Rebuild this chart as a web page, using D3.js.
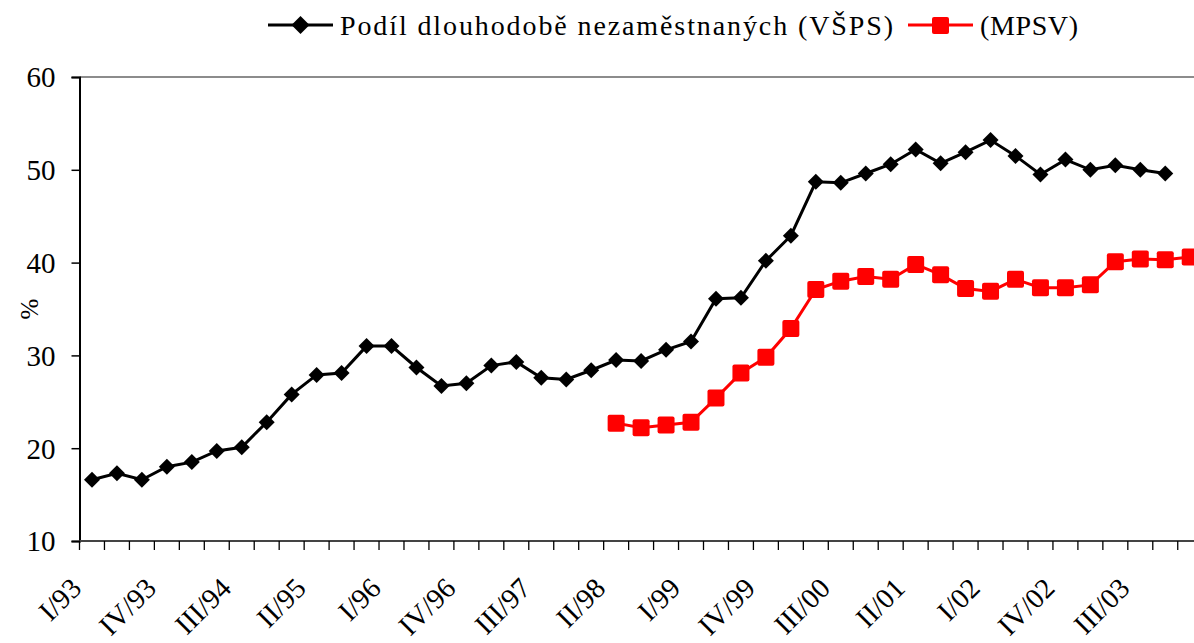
<!DOCTYPE html>
<html><head><meta charset="utf-8">
<script src="https://cdn.jsdelivr.net/npm/d3@7"></script>
<style>body{margin:0;background:#fff}svg{display:block}text{font-family:"Liberation Serif","Times New Roman",serif;fill:#000}</style>
</head><body><svg id="c" width="1194" height="643"></svg>
<script>
const categories = ["I/93","II/93","III/93","IV/93","I/94","II/94","III/94","IV/94","I/95","II/95","III/95","IV/95",
"I/96","II/96","III/96","IV/96","I/97","II/97","III/97","IV/97","I/98","II/98","III/98","IV/98",
"I/99","II/99","III/99","IV/99","I/00","II/00","III/00","IV/00","I/01","II/01","III/01","IV/01",
"I/02","II/02","III/02","IV/02","I/03","II/03","III/03","IV/03","I/04"];
const tickLabels = ["I/93","IV/93","III/94","II/95","I/96","IV/96","III/97","II/98","I/99","IV/99","III/00","II/01","I/02","IV/02","III/03"];
const yTicks = [10,20,30,40,50,60];
const vsps = [16.6,17.3,16.6,18.0,18.5,19.7,20.1,22.8,25.8,27.9,28.1,31.0,
31.0,28.7,26.7,27.0,28.9,29.3,27.6,27.4,28.4,29.5,29.4,30.6,
31.5,36.1,36.2,40.2,42.9,48.7,48.6,49.6,50.6,52.2,50.7,51.9,
53.2,51.5,49.5,51.1,50.0,50.5,50.0,49.6,null];
const mpsv = [null,null,null,null,null,null,null,null,null,null,null,null,
null,null,null,null,null,null,null,null,null,22.7,22.2,22.5,
22.8,25.4,28.1,29.8,32.9,37.1,38.0,38.5,38.2,39.8,38.7,37.2,
36.9,38.2,37.3,37.3,37.6,40.1,40.4,40.3,40.6];
const seriesNames = ["Podíl dlouhodobě nezaměstnaných (VŠPS)","(MPSV)"];

const svg = d3.select("#c");
const pLeft = 79.5, bw = 24.96, pTop = 77, pBottom = 541;
const x = d3.scaleBand().domain(categories).range([pLeft, pLeft + bw*categories.length]);
const y = d3.scaleLinear().domain([10,60]).range([pBottom, pTop]);
const cx = c => x(c) + x.bandwidth()/2;

// top plot border
svg.append("line").attr("x1",pLeft).attr("x2",1194).attr("y1",y(60)).attr("y2",y(60))
  .attr("stroke","#8c8c8c").attr("stroke-width",2.2);

// y axis
const ya = svg.append("g").attr("transform",`translate(${pLeft},0)`)
  .call(d3.axisLeft(y).tickValues(yTicks).tickSize(8).tickPadding(16).tickFormat(d3.format("d")));
ya.select(".domain").attr("stroke","#000").attr("stroke-width",2);
ya.selectAll(".tick line").attr("stroke","#000").attr("stroke-width",1.5);
ya.selectAll(".tick text").attr("font-size",29).attr("font-family","Liberation Serif").attr("dy","0.34em");

// x axis
const xa = svg.append("g");
xa.append("line").attr("x1",pLeft).attr("x2",1194).attr("y1",pBottom).attr("y2",pBottom)
  .attr("stroke","#444").attr("stroke-width",2.2);
xa.selectAll(".xt").data(categories).join("line").attr("class","xt")
  .attr("x1",d=>x(d)).attr("x2",d=>x(d)).attr("y1",pBottom).attr("y2",pBottom+9)
  .attr("stroke","#000").attr("stroke-width",1.3);
xa.selectAll(".xl").data(tickLabels).join("text").attr("class","xl")
  .attr("transform",d=>`translate(${cx(d)-9},${pBottom+49}) rotate(-45)`)
  .attr("text-anchor","end").attr("font-size",28.5).text(d=>d);

// y title
svg.append("text").attr("transform","translate(38,309) rotate(-90)").attr("text-anchor","middle")
  .attr("font-size",25).text("%");

const line = d3.line().defined(d=>d.v!=null).x(d=>cx(d.c)).y(d=>y(d.v));
const d1 = categories.map((c,i)=>({c,v:vsps[i]}));
const d2 = categories.map((c,i)=>({c,v:mpsv[i]}));

svg.append("path").datum(d1).attr("d",line).attr("fill","none").attr("stroke","#000").attr("stroke-width",3);
svg.selectAll(".dm").data(d1.filter(d=>d.v!=null)).join("path").attr("class","dm")
  .attr("d","M0,-8L8,0L0,8L-8,0Z").attr("fill","#000")
  .attr("transform",d=>`translate(${cx(d.c)},${y(d.v)})`);

svg.append("path").datum(d2).attr("d",line).attr("fill","none").attr("stroke","#ff0000").attr("stroke-width",3);
svg.selectAll(".sq").data(d2.filter(d=>d.v!=null)).join("rect").attr("class","sq")
  .attr("x",d=>cx(d.c)-8.5).attr("y",d=>y(d.v)-8.5).attr("width",17).attr("height",17).attr("rx",2)
  .attr("fill","#ff0000");

// legend
const lg = svg.append("g");
lg.append("line").attr("x1",268).attr("x2",333).attr("y1",25).attr("y2",25).attr("stroke","#000").attr("stroke-width",3);
lg.append("path").attr("d","M0,-9L9,0L0,9L-9,0Z").attr("transform","translate(300.5,25)").attr("fill","#000");
lg.append("text").attr("x",340).attr("y",35).attr("font-size",28).attr("textLength",553).attr("lengthAdjust","spacing").text(seriesNames[0]);
lg.append("line").attr("x1",908).attr("x2",973).attr("y1",25).attr("y2",25).attr("stroke","#ff0000").attr("stroke-width",3);
lg.append("rect").attr("x",932).attr("y",17).attr("width",17).attr("height",17).attr("rx",2).attr("fill","#ff0000");
lg.append("text").attr("x",980).attr("y",35).attr("font-size",28).attr("textLength",98).attr("lengthAdjust","spacing").text(seriesNames[1]);
</script></body></html>
